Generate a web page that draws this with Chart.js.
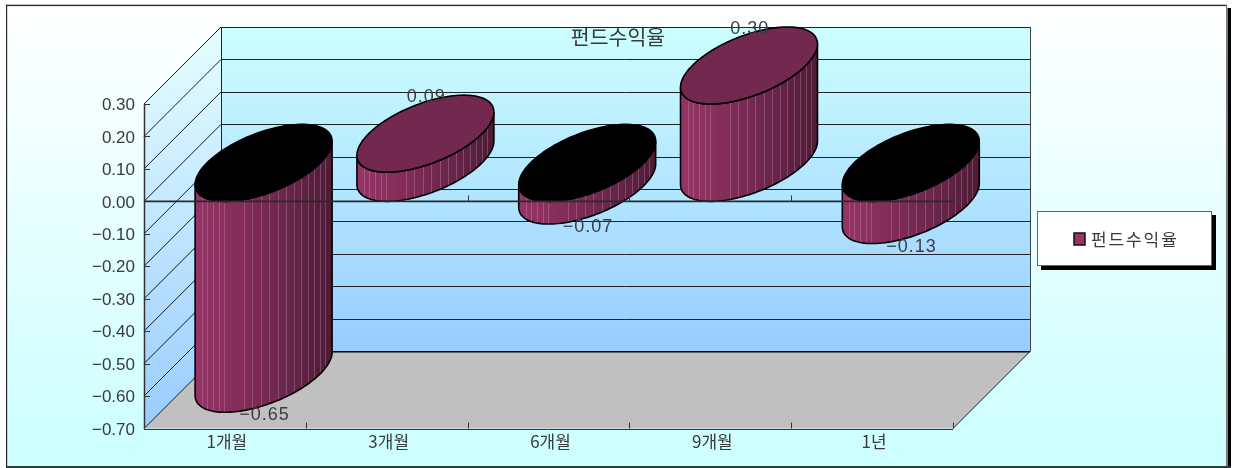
<!DOCTYPE html>
<html><head><meta charset="utf-8">
<style>html,body{margin:0;padding:0;background:#fff}#wrap{width:1236px;height:468px}canvas{display:block}</style>
<script src="https://cdn.jsdelivr.net/npm/chart.js@4/dist/chart.umd.min.js"></script>
</head><body><div id="wrap"><canvas id="c" width="1236" height="468"></canvas></div>
<script>
const categories = ['1개월','3개월','6개월','9개월','1년'];
const seriesName = '펀드수익율';
const seriesValues = [-0.65, 0.09, -0.07, 0.30, -0.13];
const tickMin = -0.7, tickMax = 0.3, tickStep = 0.1;

const depthX = 77, depthY = 77;
const KFONT = '"Noto Sans CJK KR","Liberation Sans",sans-serif';
const NUMFONT = '"Liberation Sans",sans-serif';
const stripes = [7,12,18,24,29,49,57,66,74,83,91,99,106,113,119,125,130];
const fmt = v => { const s = Math.abs(v).toFixed(2); return (v < -1e-9 ? '\u2212' : '') + s; };
const px = v => Math.round(v) + 0.5;

function line(ctx, x1, y1, x2, y2, color, w) {
  ctx.strokeStyle = color; ctx.lineWidth = w || 1;
  ctx.beginPath(); ctx.moveTo(x1, y1); ctx.lineTo(x2, y2); ctx.stroke();
}
function yTickValues() { const out = []; for (let i = 0; i <= 10; i++) out.push(+(tickMin + i * tickStep).toFixed(2)); return out; }

const scene3d = {
  id: 'scene3d',
  beforeDraw(chart) {
    const ctx = chart.ctx, { x, y } = chart.scales;
    const L = x.left, R = x.right, T = y.top, B = y.bottom;
    ctx.save();
    // page frame
    let g = ctx.createLinearGradient(0, 5, 0, 466);
    g.addColorStop(0, '#ffffff'); g.addColorStop(1, '#ccffff');
    ctx.fillStyle = '#000'; ctx.fillRect(1227.5, 8, 3.5, 460);
    ctx.fillStyle = g; ctx.fillRect(6, 5, 1221, 461);
    ctx.fillStyle = '#2b2b2b';
    ctx.fillRect(6, 4.7, 1221, 1.4); ctx.fillRect(6, 4.7, 1.2, 463);
    ctx.fillStyle = '#2f4040'; ctx.fillRect(6, 466, 1225, 2);
    ctx.fillStyle = '#777'; ctx.fillRect(1226, 5, 1.2, 461);

    // side wall
    g = ctx.createLinearGradient(0, T - depthY, 0, B);
    g.addColorStop(0, '#e6ffff'); g.addColorStop(1, '#99ccff');
    ctx.fillStyle = g;
    ctx.beginPath(); ctx.moveTo(L, T); ctx.lineTo(L + depthX, T - depthY); ctx.lineTo(L + depthX, B - depthY); ctx.lineTo(L, B); ctx.closePath(); ctx.fill();
    // back wall
    g = ctx.createLinearGradient(0, T - depthY, 0, B - depthY);
    g.addColorStop(0, '#ccffff'); g.addColorStop(1, '#99ccff');
    ctx.fillStyle = g;
    ctx.fillRect(L + depthX, T - depthY, R - L, B - T);
    // floor
    ctx.fillStyle = '#c0c0c0';
    ctx.beginPath(); ctx.moveTo(L, B); ctx.lineTo(R, B); ctx.lineTo(R + depthX, B - depthY); ctx.lineTo(L + depthX, B - depthY); ctx.closePath(); ctx.fill();
    // grid
    for (const v of yTickValues()) {
      const py = y.getPixelForValue(v);
      line(ctx, L, py, L + depthX, py - depthY, '#1a1a1a', 1);
      const by = px(py - depthY - 0.3);
      line(ctx, L + depthX, by, R + depthX, by, '#222', 1);
      line(ctx, L, px(py), L + 6, px(py), '#333', 1);
    }
    line(ctx, px(L + depthX), T - depthY, px(L + depthX), B - depthY, '#222', 1);
    line(ctx, px(R + depthX), T - depthY, px(R + depthX), B - depthY, '#444', 1);
    line(ctx, L + depthX, B - depthY + .2, R + depthX, B - depthY + .2, '#000', 1.5);
    line(ctx, R, B, R + depthX, B - depthY, '#222', 1);
    line(ctx, px(L) , T, px(L), B, '#333', 1.5);
    line(ctx, L, px(B), R, px(B), '#333', 1);
    const cw = x.width / categories.length;
    for (let i = 1; i <= categories.length; i++) line(ctx, px(L + cw * i), B, px(L + cw * i), B - 6, '#333', 1);

    // legend
    const lx = 1037, ly = 211, lw = 175, lh = 55;
    ctx.fillStyle = '#000'; ctx.fillRect(lx + 4, ly + 4, lw, lh);
    ctx.fillStyle = '#fff'; ctx.fillRect(lx, ly, lw, lh);
    ctx.strokeStyle = '#666'; ctx.lineWidth = 1; ctx.strokeRect(lx + .5, ly + .5, lw - 1, lh - 1);
    ctx.fillStyle = '#993366'; ctx.fillRect(1074, 233, 11, 12);
    ctx.strokeStyle = '#111'; ctx.lineWidth = 1.5; ctx.strokeRect(1074, 233, 11, 12);
    ctx.fillStyle = '#3a3a3a'; ctx.font = '17px ' + KFONT; ctx.textAlign = 'left'; ctx.textBaseline = 'middle';
    ctx.letterSpacing = '1.9px';
    ctx.fillText(seriesName, 1091, 239.5);
    ctx.letterSpacing = '0px';
    ctx.restore();
  },
  afterDatasetsDraw(chart) {
    const ctx = chart.ctx, { x, y } = chart.scales;
    const meta = chart.getDatasetMeta(0);
    const b = depthY / 2, k = depthX / 2;
    ctx.save();
    meta.data.forEach((el, i) => {
      const a = el.width / 2, v = seriesValues[i];
      const topY = Math.min(el.y, el.base), botY = Math.max(el.y, el.base);
      const cx = el.x + k + 0.2;
      const P = (t, fy) => [cx + a * Math.cos(t) + k * Math.sin(t), fy - b - b * Math.sin(t)];
      const tr = Math.atan2(k, a);
      // side
      const N = 72;
      const side = new Path2D();
      for (let j = 0; j <= N; j++) { const p = P(tr - Math.PI * j / N, botY); j ? side.lineTo(p[0], p[1]) : side.moveTo(p[0], p[1]); }
      for (let j = N; j >= 0; j--) { const p = P(tr - Math.PI * j / N, topY); side.lineTo(p[0], p[1]); }
      side.closePath();
      const xl = P(tr + Math.PI, 0)[0], xr = P(tr, 0)[0];
      const g = ctx.createLinearGradient(xl, 0, xr, 0);
      g.addColorStop(0, '#963567'); g.addColorStop(0.35, '#822c58'); g.addColorStop(0.7, '#67254a'); g.addColorStop(1, '#4e1b34');
      ctx.fillStyle = g; ctx.fill(side);
      ctx.save(); ctx.clip(side);
      ctx.strokeStyle = 'rgba(225,190,215,0.26)'; ctx.lineWidth = 1;
      stripes.forEach(s => { const sx = Math.round(xl + s) + .5; ctx.beginPath(); ctx.moveTo(sx, topY - depthY); ctx.lineTo(sx, botY + 2); ctx.stroke(); });
      ctx.restore();
      ctx.strokeStyle = '#000'; ctx.lineWidth = 1.6; ctx.stroke(side);
      // top disc
      const disc = new Path2D();
      for (let j = 0; j <= N * 2; j++) { const p = P(Math.PI * j / N, topY); j ? disc.lineTo(p[0], p[1]) : disc.moveTo(p[0], p[1]); }
      disc.closePath();
      ctx.fillStyle = v < 0 ? '#000000' : '#72284f'; ctx.fill(disc);
      ctx.strokeStyle = '#000'; ctx.lineWidth = 1.6; ctx.stroke(disc);
    });
    // zero line with ticks, on top of the bars
    const zy = y.getPixelForValue(0) + 0.1;
    line(ctx, x.left, zy, x.right, zy, '#2a2a2a', 1.7);
    const cw = x.width / categories.length;
    for (let i = 1; i <= categories.length; i++) line(ctx, px(x.left + cw * i), zy, px(x.left + cw * i), zy - 6, '#333', 1);
    // data labels
    ctx.fillStyle = '#3c3c3c'; ctx.font = '18px ' + NUMFONT; ctx.textAlign = 'center'; ctx.textBaseline = 'middle';
    ctx.letterSpacing = '1px';
    meta.data.forEach((el, i) => {
      const v = seriesValues[i];
      ctx.fillText(fmt(v), el.x + 39.5, el.y + (v > 0 ? -75 : 3));
    });
    ctx.restore();
  }
};

new Chart(document.getElementById('c'), {
  type: 'bar',
  data: { labels: categories, datasets: [{ label: seriesName, data: seriesValues, yAxisID: 'y', xAxisID: 'x', backgroundColor: 'rgba(0,0,0,0)', borderWidth: 0, barPercentage: 0.7, categoryPercentage: 1 }] },
  plugins: [scene3d],
  options: {
    responsive: false, animation: false, devicePixelRatio: 1,
    layout: { padding: 0 },
    plugins: {
      legend: { display: false }, tooltip: { enabled: false },
      title: { display: true, fullSize: true, text: seriesName, color: '#3a3a3a', font: { family: KFONT, size: 20.5, lineHeight: 1, weight: 'normal' }, padding: { top: 27, bottom: 56.5 } }
    },
    scales: {
      x: { grid: { display: false, drawTicks: false }, border: { display: false },
        ticks: { color: '#3a3a3a', font: { family: KFONT, size: 17 }, padding: 3, labelOffset: 2, maxRotation: 0 },
        afterFit(s) { s.height = 39.5; } },
      y: { min: tickMin, max: tickMax, grid: { display: false, drawTicks: false }, border: { display: false },
        ticks: { stepSize: tickStep, color: '#3a3a3a', font: { family: NUMFONT, size: 17 }, padding: 9, labelOffset: 1.5, callback: v => fmt(v) },
        afterFit(s) { s.width = 144; } },
      spacer: { type: 'linear', position: 'right', display: true, grid: { display: false, drawTicks: false }, border: { display: false },
        ticks: { display: false }, afterFit(s) { s.width = 283; } }
    }
  }
});
</script></body></html>
